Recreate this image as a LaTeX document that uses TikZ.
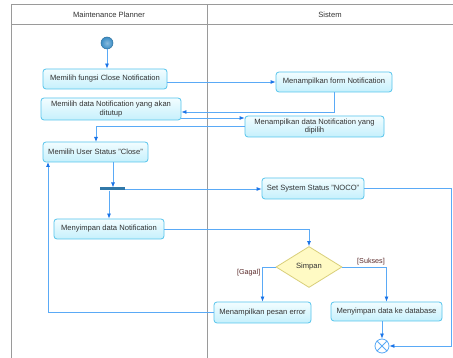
\documentclass[tikz,border=0pt]{standalone}
\usepackage{fontspec}
\setmainfont{Liberation Sans}
\usetikzlibrary{shapes.geometric,arrows.meta}
\definecolor{boxborder}{HTML}{55C4EC}
\definecolor{boxtop}{HTML}{F2FDFF}
\definecolor{boxbot}{HTML}{C6F0FC}
\definecolor{edgecol}{HTML}{5AAAF6}
\definecolor{tipcol}{HTML}{1A74E8}
\definecolor{framecol}{HTML}{9A9A9A}
\definecolor{txtcol}{HTML}{333333}
\definecolor{guardcol}{HTML}{5A2A2A}
\definecolor{decfill}{HTML}{FFFAC4}
\definecolor{decborder}{HTML}{D9CF7A}
\definecolor{initcol}{HTML}{3A8DC6}
\tikzset{
  act/.style={draw=boxborder, line width=0.8pt, rounded corners=3pt, top color=boxtop, bottom color=boxbot,
    font=\fontsize{7.6}{8.6}\selectfont, text=txtcol, align=center, inner sep=1pt},
  flow/.style={draw=edgecol, line width=0.8pt, -{Latex[length=5pt,width=4pt,color=tipcol,fill=tipcol]}},
  plain/.style={draw=edgecol, line width=0.8pt},
  lane/.style={draw=framecol, line width=1pt},
  lanetxt/.style={font=\fontsize{7.6}{8.6}\selectfont, text=txtcol},
  guard/.style={font=\fontsize{7.2}{8}\selectfont, text=guardcol, inner sep=0.5pt}
}
\begin{document}
\begin{tikzpicture}[x=1pt,y=-1pt]
\useasboundingbox (0,0) rectangle (453,358);
\fill[white] (0,0) rectangle (453,358);
% frame
\draw[lane] (11,5) -- (453,5);
\draw[lane] (11,25) -- (453,25);
\draw[lane] (11,5) -- (11,358);
\draw[lane] (207,5) -- (207,358);
\node[lanetxt] (h1) at (109,15) {Maintenance Planner};
\node[lanetxt] (h2) at (330,15) {Sistem};
% nodes
\node[circle, draw=initcol!80!black, line width=0.5pt, inner color=initcol!60!white, outer color=initcol, minimum size=12pt, inner sep=0] (init) at (107,43) {};
\node[act, minimum width=124pt, minimum height=20pt] (A1) at (105,79) {Memilih fungsi Close Notification};
\node[act, minimum width=140pt, minimum height=22pt] (A2) at (111,109) {Memilih data Notification yang akan\\ditutup};
\node[act, minimum width=105pt, minimum height=20pt] (A3) at (95.5,152) {Memilih User Status "Close"};
\node[act, minimum width=116pt, minimum height=20pt] (B1) at (334,82) {Menampilkan form Notification};
\node[act, minimum width=139pt, minimum height=21pt] (B2) at (314.5,126.5) {Menampilkan data Notification yang\\dipilih};
\node[fill=initcol!85!black, minimum width=25pt, minimum height=3pt, inner sep=0] (fork) at (112.5,189) {};
\node[act, minimum width=110pt, minimum height=20pt] (A4) at (109,229) {Menyimpan data Notification};
\node[act, minimum width=102pt, minimum height=21pt] (B3) at (313,188.5) {Set System Status "NOCO"};
\node[diamond, draw=decborder, line width=0.8pt, fill=decfill, minimum width=66pt, minimum height=41pt, inner sep=0, aspect=1.6,
  font=\fontsize{7.6}{8.6}\selectfont, text=txtcol] (D) at (309,267) {Simpan};
\node[act, minimum width=97pt, minimum height=21pt] (B4) at (262.5,312.5) {Menampilkan pesan error};
\node[act, minimum width=111pt, minimum height=19pt] (B5) at (386.5,311.5) {Menyimpan data ke database};
\node[circle, draw=edgecol, line width=0.8pt, fill=white, minimum size=14pt, inner sep=0] (F) at (382,346) {};
\draw[edgecol, line width=0.8pt] (F.north west) -- (F.south east) (F.north east) -- (F.south west);
\coordinate (rc) at (451,346);
% edges
\draw[flow] (init.south) -- (init.south |- A1.north);
\draw[flow] (A1.east |- B1.west) -- (B1.west);
\draw[flow] (B1.south) |- ([yshift=-3pt]A2.east);
\draw[flow] (A2.east |- 0,118) -- (B2.west |- 0,118);
\draw[flow] (B2.west) -| (96,126.5) -- (96,142);
\draw[flow] (A3.south -| 113,0) -- (113,187.5);
\draw[flow] (fork.east) -- (fork.east -| B3.west);
\draw[flow] (fork.south -| A4.north) -- (A4.north);
\draw[flow] (A4.east) -| (D.north);
\draw[flow] (B3.east) -| (rc) -- (F.east);
\draw[flow] (D.west) -| (B4.north);
\draw[flow] (D.east) -| (B5.north);
\draw[flow] (F.north |- B5.south) -- (F.north);
\draw[flow] (B4.west) -| (48,162);
\node[guard, anchor=north east] (g1) at (261,269) {[Gagal]};
\node[guard, anchor=south] (g2) at (371,266) {[Sukses]};
\end{tikzpicture}
\end{document}
